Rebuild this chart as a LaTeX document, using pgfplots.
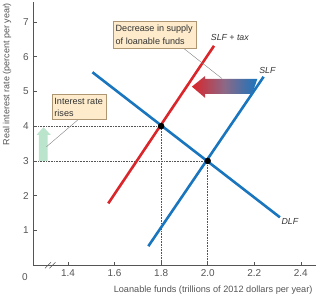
\documentclass[border=0pt]{standalone}
\usepackage{pgfplots}
\pgfplotsset{compat=1.18}
\usepackage{fontspec}
\setmainfont{Liberation Sans}
\definecolor{cred}{RGB}{218,37,42}
\definecolor{cblue}{RGB}{24,117,190}
\definecolor{cmid}{RGB}{140,105,135}
\definecolor{boxfill}{RGB}{253,235,203}
\definecolor{boxdraw}{RGB}{175,150,115}
\definecolor{cgreen}{RGB}{186,228,203}
\definecolor{tickgray}{RGB}{85,85,85}
\begin{document}
\begin{tikzpicture}
\begin{axis}[
  at={(0,0)}, anchor=south west,
  scale only axis, width=282.7bp, height=263.3bp,
  xmin=1.251, xmax=2.465, ymin=0, ymax=7.57,
  axis lines=left, axis line style={-, tickgray, line width=0.7pt},
  tick align=inside, major tick length=3.5bp,
  tick style={tickgray, line width=0.6pt},
  xtick={1.4,1.6,1.8,2.0,2.2,2.4}, ytick={1,2,3,4,5,6,7},
  xticklabel style={/pgf/number format/fixed,/pgf/number format/precision=1,/pgf/number format/fixed zerofill, font=\fontsize{10}{12}\selectfont, text=tickgray, yshift=-1bp},
  yticklabel style={font=\fontsize{10}{12}\selectfont, text=tickgray, xshift=-1bp},
  /pgf/number format/assume math mode=true,
  xlabel={Loanable funds (trillions of 2012 dollars per year)},
  xlabel style={font=\fontsize{9.2}{11}\selectfont, text=tickgray, at={(rel axis cs:1,0)}, anchor=north east, yshift=-17bp, xshift=0bp},
  clip=false,
]
% dotted guides
\addplot[tickgray, densely dotted, line width=0.6pt] coordinates {(1.251,4) (1.8,4) (1.8,0)};
\addplot[tickgray, densely dotted, line width=0.6pt] coordinates {(1.251,3) (2.0,3) (2.0,0)};
% curves
\addplot[cred, line width=2.6pt] coordinates {(1.573,1.78) (2.027,6.31)};
\addplot[cblue, line width=2.6pt] coordinates {(1.745,0.55) (2.24,5.42)};
\addplot[cblue, line width=2.6pt] coordinates {(1.505,5.55) (2.31,1.38)};
% equilibrium points
\addplot[only marks, mark=*, mark size=3pt, black] coordinates {(1.8,4) (2.0,3)};
% gradient arrow
\path[left color=cred, right color=cblue, middle color=cmid]
  (axis cs:1.932,5.137) -- (axis cs:1.989,5.444) -- (axis cs:1.989,5.358)
  -- (axis cs:2.213,5.358) -- (axis cs:2.191,4.927) -- (axis cs:1.989,4.927)
  -- (axis cs:1.989,4.812) -- cycle;
% green arrow
\fill[cgreen] (axis cs:1.275,3.0) -- (axis cs:1.275,3.75) -- (axis cs:1.265,3.75)
  -- (axis cs:1.2945,3.97) -- (axis cs:1.326,3.75) -- (axis cs:1.313,3.75)
  -- (axis cs:1.313,3.0) -- cycle;
% leader lines
\draw[gray, line width=0.4pt] (axis cs:1.896,6.241) -- (axis cs:2.061,5.37);
\draw[gray, line width=0.4pt] (axis cs:1.442,4.179) -- (axis cs:1.308,3.411);
% boxes
\filldraw[fill=boxfill, draw=boxdraw, line width=0.5pt] (axis cs:1.594,6.241) rectangle (axis cs:1.949,7.006);
\node[anchor=west, inner sep=0, font=\fontsize{9.1}{11}\selectfont, text=black!80] at (axis cs:1.604,6.8) {Decrease in supply};
\node[anchor=west, inner sep=0, font=\fontsize{9.1}{11}\selectfont, text=black!80] at (axis cs:1.604,6.45) {of loanable funds};
\filldraw[fill=boxfill, draw=boxdraw, line width=0.5pt] (axis cs:1.331,4.205) rectangle (axis cs:1.563,4.918);
\node[anchor=west, inner sep=0, font=\fontsize{9.1}{11}\selectfont, text=black!80] at (axis cs:1.341,4.72) {Interest rate};
\node[anchor=west, inner sep=0, font=\fontsize{9.1}{11}\selectfont, text=black!80] at (axis cs:1.341,4.38) {rises};
% curve labels
\node[font=\fontsize{8.8}{10}\selectfont\itshape, text=black!80] at (axis cs:2.095,6.546) {SLF + tax};
\node[font=\fontsize{8.8}{10}\selectfont\itshape, text=black!80] at (axis cs:2.256,5.597) {SLF};
\node[font=\fontsize{8.8}{10}\selectfont\itshape, text=black!80] at (axis cs:2.353,1.274) {DLF};
% origin label
\node[font=\fontsize{10}{12}\selectfont, text=tickgray] at ([shift={(-8.3bp,-11.7bp)}]rel axis cs:0,0) {0};
\end{axis}
% y label
\node[rotate=90, anchor=east, inner sep=0, font=\fontsize{9}{11}\selectfont, text=tickgray] at (-26.3bp,262.5bp) {Real interest rate (percent per year)};
% axis break marks
\draw[tickgray, line width=0.6pt] (11.7bp,-3bp) -- (17.7bp,3bp);
\draw[tickgray, line width=0.6pt] (16.2bp,-3bp) -- (22.2bp,3bp);
\pgfresetboundingbox
\path[use as bounding box] (-33.3bp,-34.7bp) rectangle (284.7bp,265.3bp);
\end{tikzpicture}
\end{document}
